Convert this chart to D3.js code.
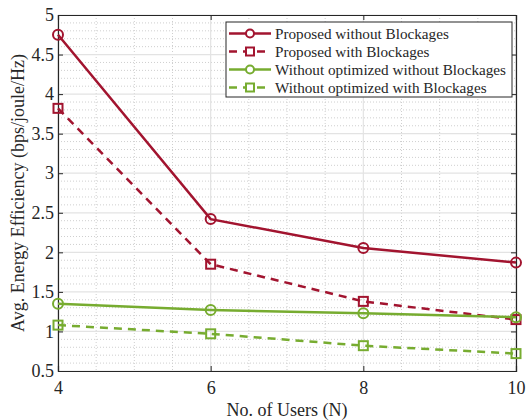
<!doctype html>
<html>
<head>
<meta charset="UTF-8">
<title>Energy efficiency</title>
<script src="https://d3js.org/d3.v7.min.js"></script>
<style>
  body { margin: 0; background: #fff; }
  text { font-family: "Liberation Serif", "DejaVu Serif", serif; fill: #262626; }
</style>
</head>
<body>
<svg id="chart" width="526" height="420"></svg>
<script>
// data
var users = [4, 6, 8, 10];
var proposedNoBlock = [4.75, 2.42, 2.055, 1.87];
var proposedBlock = [3.82, 1.85, 1.38, 1.15];
var noOptNoBlock = [1.35, 1.27, 1.23, 1.18];
var noOptBlock = [1.08, 0.97, 0.82, 0.72];
var xTicks = [4, 6, 8, 10];
var yTicks = [0.5, 1, 1.5, 2, 2.5, 3, 3.5, 4, 4.5, 5];
var seriesNames = ["Proposed without Blockages", "Proposed with Blockages",
                   "Without optimized without Blockages", "Without optimized with Blockages"];

var red = "#A2142F", green = "#77AC30";
var series = [
  { name: seriesNames[0], values: proposedNoBlock, color: red, dash: null, marker: "circle" },
  { name: seriesNames[1], values: proposedBlock, color: red, dash: "8,6", marker: "square" },
  { name: seriesNames[2], values: noOptNoBlock, color: green, dash: null, marker: "circle" },
  { name: seriesNames[3], values: noOptBlock, color: green, dash: "8,6", marker: "square" }
];

var pLeft = 58, pRight = 516, pTop = 15, pBottom = 371;
var svg = d3.select("#chart");
var x = d3.scaleLinear().domain([4, 10]).range([pLeft, pRight]);
var y = d3.scaleLinear().domain([0.5, 5]).range([pBottom, pTop]);

// minor grid (dotted)
var g = svg.append("g");
g.selectAll("line.minx").data(d3.range(4.5, 10, 0.5).filter(function (v) { return v % 2 !== 0; }))
  .enter().append("line")
  .attr("x1", function (d) { return x(d); }).attr("x2", function (d) { return x(d); })
  .attr("y1", pTop).attr("y2", pBottom)
  .attr("stroke", "#cfcfcf").attr("stroke-width", 1).attr("stroke-dasharray", "1,2");
g.selectAll("line.miny").data(d3.range(6, 50).map(function (v) { return v / 10; }).filter(function (v) { return Math.round(v * 10) % 5 !== 0; }))
  .enter().append("line")
  .attr("x1", pLeft).attr("x2", pRight)
  .attr("y1", function (d) { return y(d); }).attr("y2", function (d) { return y(d); })
  .attr("stroke", "#cfcfcf").attr("stroke-width", 1).attr("stroke-dasharray", "1,2");

// major grid
g.selectAll("line.majx").data(xTicks).enter().append("line")
  .attr("x1", function (d) { return x(d); }).attr("x2", function (d) { return x(d); })
  .attr("y1", pTop).attr("y2", pBottom)
  .attr("stroke", "#e3e3e3").attr("stroke-width", 1.2);
g.selectAll("line.majy").data(yTicks).enter().append("line")
  .attr("x1", pLeft).attr("x2", pRight)
  .attr("y1", function (d) { return y(d); }).attr("y2", function (d) { return y(d); })
  .attr("stroke", "#e3e3e3").attr("stroke-width", 1.2);

// axes (box with inward ticks)
var fmt = function (d) { return String(d); };
var xAxis = svg.append("g").attr("transform", "translate(0," + pBottom + ")")
  .call(d3.axisBottom(x).tickValues(xTicks).tickSize(-5).tickPadding(10).tickFormat(fmt));
var yAxis = svg.append("g").attr("transform", "translate(" + pLeft + ",0)")
  .call(d3.axisLeft(y).tickValues(yTicks).tickSize(-5).tickPadding(4).tickFormat(fmt));
var xTop = svg.append("g").attr("transform", "translate(0," + pTop + ")")
  .call(d3.axisTop(x).tickValues(xTicks).tickSize(-5).tickFormat(""));
var yRight = svg.append("g").attr("transform", "translate(" + pRight + ",0)")
  .call(d3.axisRight(y).tickValues(yTicks).tickSize(-5).tickFormat(""));
[xAxis, yAxis, xTop, yRight].forEach(function (a) {
  a.select(".domain").attr("stroke", "#262626").attr("stroke-width", 1.2);
  a.selectAll(".tick line").attr("stroke", "#262626");
  a.selectAll("text").style("font-size", "18px").attr("fill", "#262626")
    .style("font-family", "'Liberation Serif', serif");
});

// lines
var line = d3.line().x(function (d, i) { return x(users[i]); }).y(function (d) { return y(d); });
series.forEach(function (s) {
  svg.append("path").datum(s.values)
    .attr("d", line).attr("fill", "none")
    .attr("stroke", s.color).attr("stroke-width", 2.5)
    .attr("stroke-dasharray", s.dash);
  var m = svg.append("g").selectAll("g").data(s.values).enter();
  if (s.marker === "circle") {
    m.append("circle")
      .attr("cx", function (d, i) { return x(users[i]); })
      .attr("cy", function (d) { return y(d); })
      .attr("r", 5).attr("fill", "none").attr("stroke", s.color).attr("stroke-width", 2);
  } else {
    m.append("rect")
      .attr("x", function (d, i) { return x(users[i]) - 4.5; })
      .attr("y", function (d) { return y(d) - 4.5; })
      .attr("width", 9).attr("height", 9)
      .attr("fill", "none").attr("stroke", s.color).attr("stroke-width", 2);
  }
});

// legend
var lg = svg.append("g").attr("transform", "translate(226,22)");
lg.append("rect").attr("width", 286).attr("height", 75)
  .attr("fill", "#fff").attr("stroke", "#262626").attr("stroke-width", 1);
series.forEach(function (s, i) {
  var yy = 11.5 + i * 18;
  lg.append("line").attr("x1", 3).attr("x2", 45).attr("y1", yy).attr("y2", yy)
    .attr("stroke", s.color).attr("stroke-width", 2.5).attr("stroke-dasharray", s.dash);
  if (s.marker === "circle") {
    lg.append("circle").attr("cx", 24).attr("cy", yy).attr("r", 4)
      .attr("fill", "#fff").attr("stroke", s.color).attr("stroke-width", 2);
  } else {
    lg.append("rect").attr("x", 20).attr("y", yy - 4).attr("width", 8).attr("height", 8)
      .attr("fill", "#fff").attr("stroke", s.color).attr("stroke-width", 2);
  }
  lg.append("text").attr("x", 49).attr("y", yy + 5).style("font-size", "15.2px").attr("fill", "#111").text(s.name);
});

// axis labels
svg.append("text").attr("x", (pLeft + pRight) / 2).attr("y", 416)
  .attr("text-anchor", "middle").style("font-size", "18px").text("No. of Users (N)");
svg.append("text").attr("transform", "translate(24," + ((pTop + pBottom) / 2) + ") rotate(-90)")
  .attr("text-anchor", "middle").style("font-size", "18px")
  .text("Avg. Energy Efficiency (bps/joule/Hz)");
</script>
</body>
</html>
